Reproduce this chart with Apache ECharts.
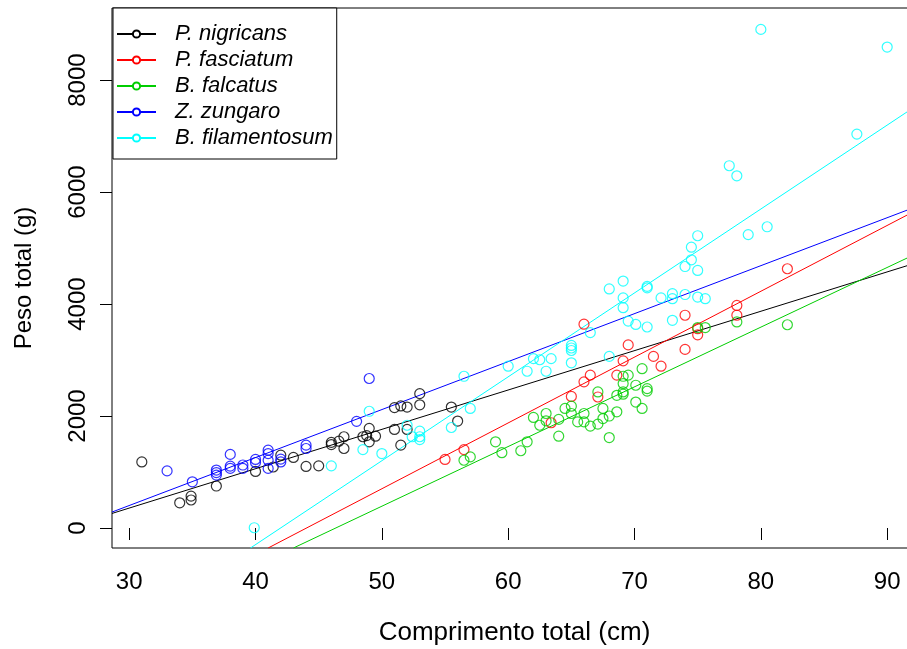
<!DOCTYPE html>
<html>
<head>
<meta charset="utf-8">
<script src="https://cdn.jsdelivr.net/npm/echarts@6/dist/echarts.min.js"></script>
<style>
  html, body { margin: 0; padding: 0; background: #fff; }
  #chart { width: 907px; height: 649px; }
</style>
</head>
<body>
<div id="chart"></div>
<script>
// Weight vs length for five species, with fitted lines
const species = ['P. nigricans', 'P. fasciatum', 'B. falcatus', 'Z. zungaro', 'B. filamentosum'];
const colors = ['#000000', '#FF0000', '#00CD00', '#0000FF', '#00FFFF'];

const xTicks = [30, 40, 50, 60, 70, 80, 90];
const yTicks = [0, 2000, 4000, 6000, 8000];

const nigricans = [
  [31.0, 1180], [34.0, 450], [34.9, 570], [34.9, 500], [36.9, 750], [40.0, 1010], [41.4, 1090],
  [42.0, 1300], [43.0, 1260], [44.0, 1100], [45.0, 1110], [46.0, 1530], [46.0, 1490], [46.6, 1550],
  [47.0, 1630], [47.0, 1420], [48.5, 1630], [48.8, 1650], [49.0, 1780], [49.0, 1540], [49.5, 1640],
  [51.0, 2150], [51.5, 2180], [52.0, 2160], [53.0, 2400], [53.0, 2200], [51.0, 1760], [52.0, 1760],
  [51.5, 1480], [55.5, 2160], [56.0, 1910]
];
const fasciatum = [
  [55.0, 1225], [56.5, 1400], [63.4, 1880], [65.0, 2350], [66.0, 2610], [66.0, 3640], [66.5, 2730],
  [67.1, 2340], [68.6, 2730], [69.1, 2985], [69.5, 3270], [71.5, 3065], [72.1, 2890], [74.0, 3800],
  [74.0, 3190], [75.0, 3560], [75.0, 3450], [78.1, 3975], [78.1, 3800], [82.1, 4630]
];
const falcatus = [
  [56.5, 1210], [57.0, 1270], [59.0, 1540], [59.5, 1345], [61.0, 1380], [61.5, 1540], [62.0, 1975],
  [62.5, 1835], [63.0, 2045], [63.0, 1915], [64.0, 1940], [64.0, 1640], [64.5, 2135], [65.0, 2175],
  [65.0, 2045], [65.5, 1895], [66.0, 2045], [66.0, 1895], [66.5, 1820], [67.1, 2430], [67.1, 1855],
  [67.5, 2135], [67.5, 1955], [68.0, 2000], [68.0, 1615], [68.6, 2370], [68.6, 2075], [69.1, 2710],
  [69.1, 2580], [69.1, 2430], [69.1, 2390], [69.5, 2730], [70.1, 2550], [70.1, 2250], [70.6, 2845],
  [70.6, 2135], [71.0, 2490], [71.0, 2445], [75.0, 3580], [75.6, 3580], [78.1, 3680], [82.1, 3630]
];
const zungaro = [
  [33.0, 1020], [35.0, 825], [36.9, 1035], [36.9, 990], [36.9, 945], [38.0, 1315], [38.0, 1105],
  [38.0, 1065], [39.0, 1125], [39.0, 1065], [40.0, 1225], [40.0, 1170], [41.0, 1390], [41.0, 1330],
  [41.0, 1210], [41.0, 1065], [42.0, 1230], [42.0, 1180], [44.0, 1480], [44.0, 1420], [48.0, 1905],
  [49.0, 2670]
];
const filamentosum = [
  [39.9, 5], [46.0, 1110], [48.5, 1400], [49.0, 2085], [50.0, 1330], [52.0, 1835], [52.4, 1630],
  [53.0, 1730], [53.0, 1630], [53.0, 1580], [55.5, 1795], [56.5, 2710], [57.0, 2135], [60.0, 2890],
  [61.5, 2800], [62.0, 3025], [62.5, 3005], [63.0, 2800], [63.4, 3025], [65.0, 3260], [65.0, 3215],
  [65.0, 3170], [65.0, 2950], [66.5, 3490], [68.0, 3065], [68.0, 4270], [69.1, 4410], [69.1, 4110],
  [69.1, 3935], [69.5, 3695], [70.1, 3635], [71.0, 4315], [71.0, 4290], [71.0, 3590], [72.1, 4110],
  [73.0, 4185], [73.0, 4095], [73.0, 3710], [74.0, 4170], [74.0, 4670], [74.5, 5015], [74.5, 4790],
  [75.0, 4600], [75.0, 4125], [75.6, 4095], [75.0, 5220], [77.5, 6470], [78.1, 6290], [79.0, 5240],
  [80.5, 5380], [80.0, 8905], [87.6, 7035], [90.0, 8590]
];

// fitted lines, read as end points
const fitNigricans = [[28.64, 260], [92.36, 4740]];
const fitFasciatum = [[41.0, -357], [92.36, 5681]];
const fitFalcatus = [[43.0, -357], [92.36, 4905]];
const fitZungaro = [[28.64, 285], [92.36, 5744]];
const fitFilamentosum = [[39.6, -357], [92.36, 7549]];

const points = [nigricans, fasciatum, falcatus, zungaro, filamentosum];
const fits = [fitNigricans, fitFasciatum, fitFalcatus, fitZungaro, fitFilamentosum];

const font = 'Liberation Sans, Arial, sans-serif';

const series = [];
species.forEach((name, i) => {
  series.push({
    name: name,
    type: 'line',
    data: fits[i],
    symbol: 'emptyCircle',
    symbolSize: 8,
    showSymbol: false,
    clip: true,
    lineStyle: { color: colors[i], width: 1 },
    itemStyle: { color: colors[i] },
    z: 2
  });
});
species.forEach((name, i) => {
  series.push({
    name: name,
    type: 'scatter',
    data: points[i],
    symbol: 'circle',
    symbolSize: 10,
    itemStyle: { color: 'transparent', borderColor: colors[i], borderWidth: 1.2 },
    z: 3
  });
});

const chart = echarts.init(document.getElementById('chart'));
chart.setOption({
  animation: false,
  backgroundColor: '#fff',
  grid: {
    left: 112, top: 8, right: -10, bottom: 101,
    outerBoundsMode: 'none', containLabel: false,
    show: true, borderColor: '#000', borderWidth: 1
  },
  legend: {
    data: species,
    orient: 'vertical',
    left: 113,
    top: 8,
    backgroundColor: '#fff',
    borderColor: '#000',
    borderWidth: 1,
    borderRadius: 0,
    padding: [15, 4, 10, 3],
    itemWidth: 39,
    itemHeight: 9,
    itemGap: 4,
    textStyle: { fontFamily: font, fontSize: 22, lineHeight: 9, fontStyle: 'italic', color: '#000', padding: [0, 0, 0, 14] }
  },
  xAxis: {
    type: 'value',
    min: 28.64,
    max: 92.36,
    name: 'Comprimento total (cm)',
    nameLocation: 'middle',
    nameGap: 72,
    nameTextStyle: { fontFamily: font, fontSize: 26, color: '#000' },
    splitLine: { show: false },
    axisLine: { show: false },
    axisTick: { show: true, length: 12, customValues: xTicks, lineStyle: { color: '#000' } },
    axisLabel: { customValues: xTicks, margin: 22, fontFamily: font, fontSize: 24, color: '#000' }
  },
  yAxis: {
    type: 'value',
    min: -357,
    max: 9287,
    name: 'Peso total (g)',
    nameLocation: 'middle',
    nameGap: 76,
    nameTextStyle: { fontFamily: font, fontSize: 24, color: '#000' },
    splitLine: { show: false },
    axisLine: { show: false },
    axisTick: { show: true, length: 12, customValues: yTicks, lineStyle: { color: '#000' } },
    axisLabel: {
      customValues: yTicks, rotate: 90, margin: 22, fontFamily: font, fontSize: 24, color: '#000',
      formatter: v => String(v)
    }
  },
  series: series
});
</script>
</body>
</html>
